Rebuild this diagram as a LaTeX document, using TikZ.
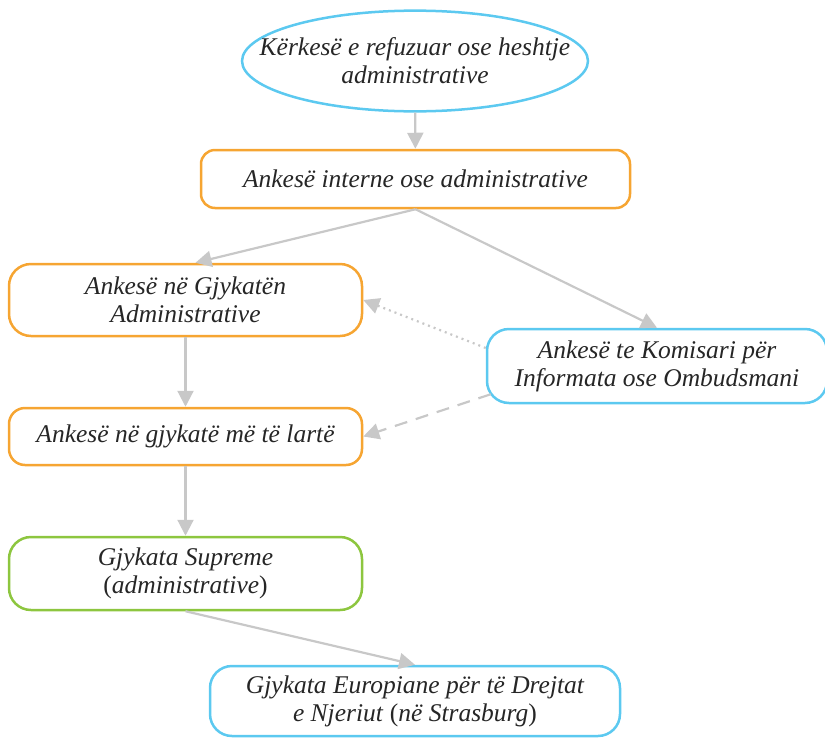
\documentclass[tikz,border=0pt]{standalone}
\usepackage{fontspec}
\setmainfont{Liberation Serif}
\usetikzlibrary{positioning,shapes,arrows.meta}
\definecolor{boxorange}{HTML}{F6A532}
\definecolor{boxblue}{HTML}{5CC9F0}
\definecolor{boxgreen}{HTML}{8DC63F}
\definecolor{linegrey}{HTML}{C8C8C8}

\begin{document}
\begin{tikzpicture}[x=1pt, y=-1pt, every node/.style={draw, fill=white, line width=2.5pt, align=center, inner sep=0pt, text=black!85, font=\fontsize{25.5}{28}\selectfont\itshape}, box/.style={rectangle, rounded corners=22pt}, link/.style={draw=linegrey, line width=2.2pt, -{Triangle[length=16pt,width=16pt]}}]
\useasboundingbox (0,0) rectangle (825,737);

\node[ellipse, draw=boxblue, inner xsep=-33pt, inner ysep=12.5pt] (req) at (415,61) {Kërkesë e refuzuar ose heshtje\\administrative};
\node[box, rounded corners=14pt, draw=boxorange, minimum width=429pt, minimum height=58pt] (int) at (415.5,179) {Ankesë interne ose administrative};
\node[box, draw=boxorange, minimum width=353pt, minimum height=72pt] (adm) at (185.5,300) {Ankesë në Gjykatën\\Administrative};
\node[box, rounded corners=16pt, draw=boxorange, minimum width=353pt, minimum height=57pt] (hi) at (185.5,436.5) {Ankesë në gjykatë më të lartë};
\node[box, draw=boxgreen, minimum width=353pt, minimum height=73pt] (sup) at (185.5,573.5) {Gjykata Supreme\\\textup{(}administrative\textup{)}};
\node[box, draw=boxblue, minimum width=340pt, minimum height=74pt] (kom) at (657,366) {Ankesë te Komisari për\\Informata ose Ombudsmani};
\node[box, draw=boxblue, minimum width=410pt, minimum height=70pt] (eu) at (415,701) {Gjykata Europiane për të Drejtat\\e Njeriut \textup{(}në Strasburg\textup{)}};

\draw[link] (req) -- (int);
\draw[link] (int.south) -- ([xshift=10pt]adm.north);
\draw[link] (int.south) -- (kom.north);
\draw[link] (adm) -- (hi);
\draw[link] (hi) -- (sup);
\draw[link] (sup.south) -- (eu.north);
\draw[link, dash pattern=on 2pt off 4pt] ([yshift=18pt]kom.west) -- (adm.east);
\draw[link, dash pattern=on 13pt off 9pt] ([xshift=5pt,yshift=10pt]kom.south west) -- (hi.east);
\end{tikzpicture}
\end{document}
